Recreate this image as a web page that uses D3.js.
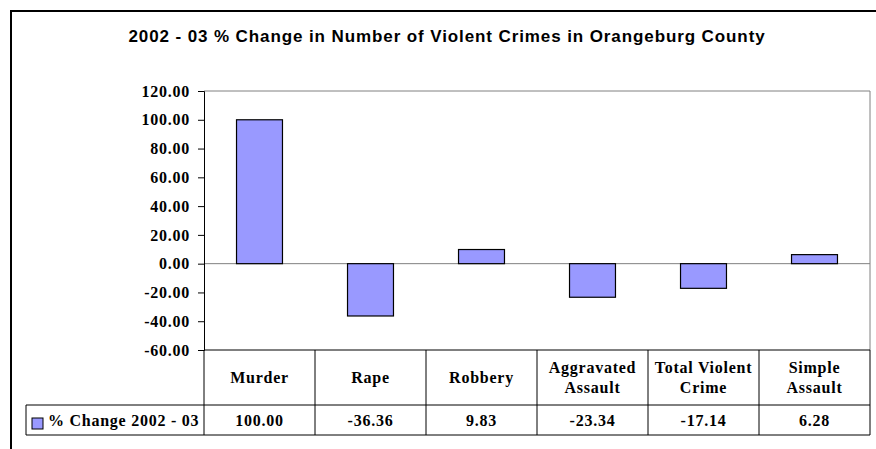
<!DOCTYPE html>
<html>
<head>
<meta charset="utf-8">
<script src="https://cdn.jsdelivr.net/npm/d3@7"></script>
<style>
  html, body { margin: 0; padding: 0; background: #fff; }
  svg { display: block; }
</style>
</head>
<body>
<svg id="chart" width="876" height="449"></svg>
<script>
const title = "2002 - 03 % Change in Number of Violent Crimes in Orangeburg County";
const categories = ["Murder", "Rape", "Robbery", "Aggravated Assault", "Total Violent Crime", "Simple Assault"];
const categoryLines = [["Murder"], ["Rape"], ["Robbery"], ["Aggravated", "Assault"], ["Total Violent", "Crime"], ["Simple", "Assault"]];
const seriesName = "% Change 2002 - 03";
const values = [100.00, -36.36, 9.83, -23.34, -17.14, 6.28];
const yTicks = [-60, -40, -20, 0, 20, 40, 60, 80, 100, 120];

const svg = d3.select("#chart");
const serif = "'Liberation Serif', 'Times New Roman', serif";
const sans = "'Liberation Sans', Arial, sans-serif";
const serifSpacing = "0.75px";

// outer frame (cropped at right/bottom)
svg.append("rect").attr("x", 11).attr("y", 11).attr("width", 900).attr("height", 500)
  .attr("fill", "#fff").attr("stroke", "#000").attr("stroke-width", 2);

svg.append("text").attr("x", 447).attr("y", 42).attr("text-anchor", "middle")
  .attr("font-family", sans).attr("font-weight", "bold").attr("font-size", 17)
  .attr("letter-spacing", "0.9px")
  .text(title);

const plot = { left: 204, right: 870, top: 91, bottom: 350 };
const x = d3.scaleBand().domain(categories).range([plot.left, plot.right]).padding(0);
const y = d3.scaleLinear().domain([-60, 120]).range([plot.bottom, plot.top]);

// plot frame (grey top & right)
svg.append("path")
  .attr("d", `M${plot.left},${plot.top}H${plot.right}V${plot.bottom}`)
  .attr("fill", "none").attr("stroke", "#808080").attr("stroke-width", 1);

// zero line
svg.append("line").attr("x1", plot.left).attr("x2", plot.right)
  .attr("y1", y(0)).attr("y2", y(0)).attr("stroke", "#808080").attr("stroke-width", 1);

// bars
const barW = x.bandwidth() * 0.414;
svg.append("g").selectAll("rect").data(values).join("rect")
  .attr("x", (d, i) => x(categories[i]) + (x.bandwidth() - barW) / 2)
  .attr("y", d => y(Math.max(0, d)))
  .attr("width", barW)
  .attr("height", d => Math.abs(y(d) - y(0)))
  .attr("fill", "#9999FF").attr("stroke", "#000").attr("stroke-width", 1.2);

// y axis
const yAxis = d3.axisLeft(y).tickValues(yTicks).tickSize(6).tickPadding(8)
  .tickFormat(d => d.toFixed(2));
const ga = svg.append("g").attr("transform", `translate(${plot.left},0)`).call(yAxis);
ga.select(".domain").attr("stroke", "#000");
ga.selectAll(".tick line").attr("stroke", "#000");
ga.selectAll(".tick text").attr("font-family", serif).attr("font-weight", "bold")
  .attr("font-size", 16).attr("letter-spacing", serifSpacing).attr("fill", "#000");

// data table
const tCatTop = 350, tValTop = 405, tBottom = 435, legendLeft = 26;
const tbl = svg.append("g").attr("stroke", "#000").attr("stroke-width", 1).attr("fill", "none");
tbl.append("line").attr("x1", plot.left).attr("x2", plot.right).attr("y1", tCatTop).attr("y2", tCatTop);
tbl.append("line").attr("x1", legendLeft).attr("x2", plot.right).attr("y1", tValTop).attr("y2", tValTop);
tbl.append("line").attr("x1", legendLeft).attr("x2", plot.right).attr("y1", tBottom).attr("y2", tBottom);
tbl.append("line").attr("x1", legendLeft).attr("x2", legendLeft).attr("y1", tValTop).attr("y2", tBottom);
categories.forEach(c => {
  tbl.append("line").attr("x1", x(c)).attr("x2", x(c)).attr("y1", tCatTop).attr("y2", tBottom);
});
tbl.append("line").attr("x1", plot.right).attr("x2", plot.right).attr("y1", tCatTop).attr("y2", tBottom);

// category labels
const catG = svg.append("g").attr("font-family", serif).attr("font-weight", "bold")
  .attr("font-size", 16).attr("letter-spacing", serifSpacing)
  .attr("text-anchor", "middle").attr("fill", "#000");
categoryLines.forEach((lines, i) => {
  const cx = x(categories[i]) + x.bandwidth() / 2;
  const mid = (tCatTop + tValTop) / 2;
  const lh = 20;
  lines.forEach((ln, j) => {
    catG.append("text").attr("x", cx)
      .attr("y", mid + (j - (lines.length - 1) / 2) * lh)
      .attr("dy", "0.35em").text(ln);
  });
});

// values row
const valG = svg.append("g").attr("font-family", serif).attr("font-weight", "bold")
  .attr("font-size", 16).attr("letter-spacing", serifSpacing)
  .attr("text-anchor", "middle").attr("fill", "#000");
values.forEach((v, i) => {
  valG.append("text").attr("x", x(categories[i]) + x.bandwidth() / 2)
    .attr("y", (tValTop + tBottom) / 2).attr("dy", "0.35em").text(v.toFixed(2));
});

// legend cell
svg.append("rect").attr("x", 32).attr("y", 418).attr("width", 11).attr("height", 11)
  .attr("fill", "#9999FF").attr("stroke", "#000").attr("stroke-width", 1);
svg.append("text").attr("x", 48).attr("y", (tValTop + tBottom) / 2).attr("dy", "0.35em")
  .attr("font-family", serif).attr("font-weight", "bold").attr("font-size", 16)
  .attr("letter-spacing", serifSpacing).attr("fill", "#000")
  .text(seriesName);
</script>
</body>
</html>
